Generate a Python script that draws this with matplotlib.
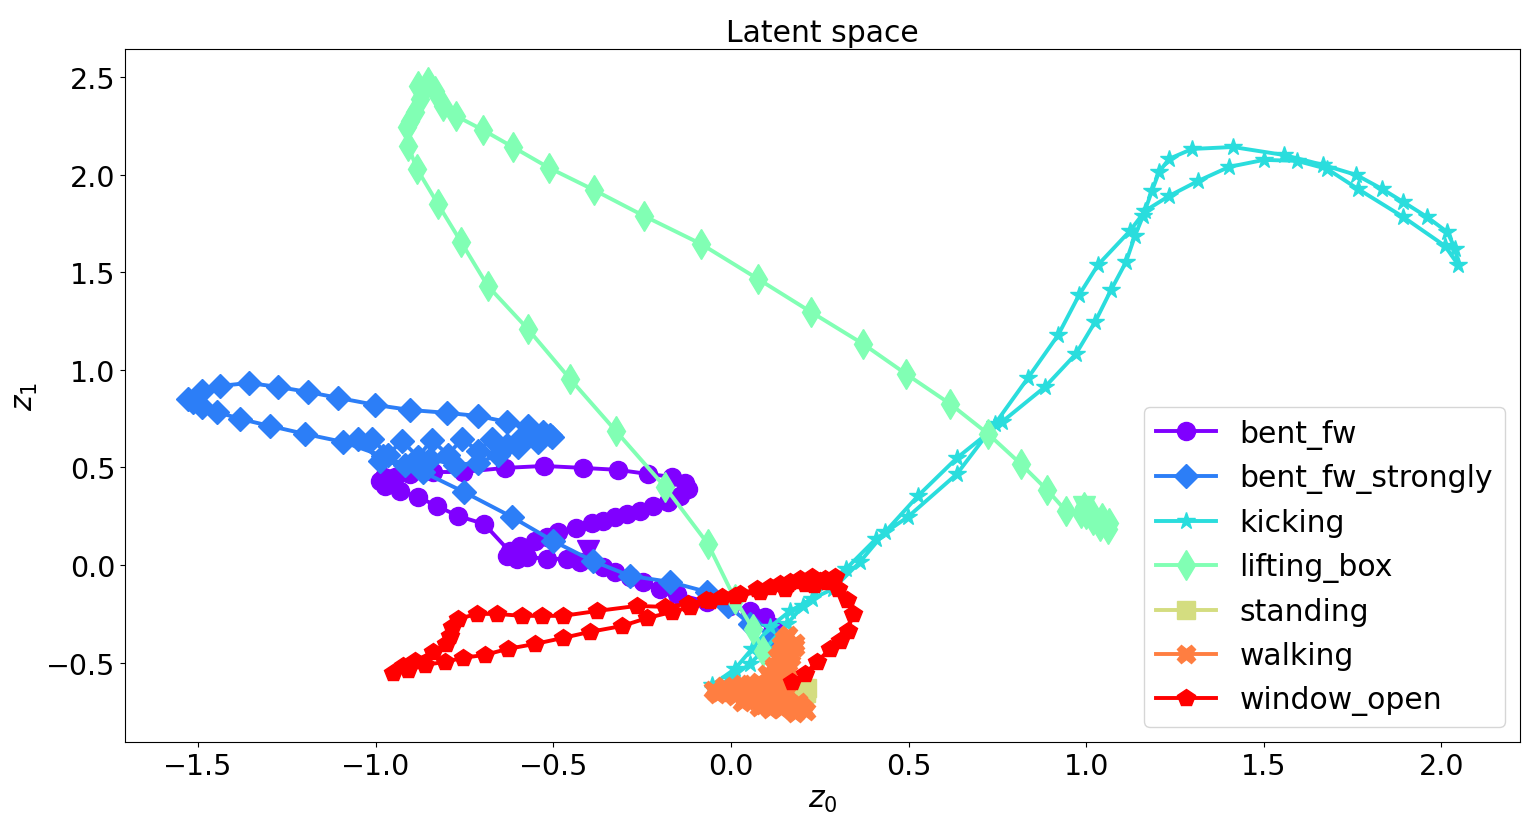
import matplotlib
matplotlib.use('Agg')
import matplotlib.pyplot as plt
from matplotlib import cm
import numpy as np

labels = ['bent_fw', 'bent_fw_strongly', 'kicking', 'lifting_box',
          'standing', 'walking', 'window_open']
markers = ['o', 'D', '*', 'd', 's', 'X', 'p']

bent_fw_x = [-0.622, -0.695, -0.769, -0.828, -0.881, -0.932, -0.974, -0.988, -0.977, -0.946,
             -0.904, -0.839, -0.755, -0.636, -0.526, -0.417, -0.318, -0.234, -0.166, -0.130,
             -0.121, -0.144, -0.177, -0.220, -0.256, -0.293, -0.327, -0.360, -0.391, -0.436,
             -0.487, -0.518, -0.552, -0.594, -0.622, -0.631, -0.602, -0.574, -0.518, -0.462,
             -0.425, -0.360, -0.327, -0.284, -0.248, -0.200, -0.152, -0.068, -0.003, 0.053,
             0.096, 0.118, 0.124]
bent_fw_y = [0.067, 0.210, 0.251, 0.302, 0.348, 0.379, 0.405, 0.430, 0.451, 0.451,
             0.466, 0.476, 0.476, 0.497, 0.507, 0.497, 0.487, 0.466, 0.451, 0.420,
             0.389, 0.353, 0.323, 0.302, 0.277, 0.261, 0.246, 0.225, 0.215, 0.190,
             0.169, 0.143, 0.123, 0.097, 0.072, 0.046, 0.031, 0.041, 0.031, 0.031,
             0.015, -0.010, -0.036, -0.061, -0.087, -0.123, -0.149, -0.190, -0.210, -0.236,
             -0.266, -0.318, -0.379]

bent_fw_strongly_x = [0.118, 0.053, -0.008, -0.068, -0.172, -0.284, -0.389, -0.501, -0.617, -0.752,
                      -0.867, -0.980, -1.092, -1.199, -1.298, -1.382, -1.447, -1.489, -1.515, -1.529,
                      -1.489, -1.439, -1.357, -1.275, -1.191, -1.106, -1.002, -0.904, -0.800, -0.712,
                      -0.631, -0.572, -0.529, -0.504, -0.543, -0.588, -0.631, -0.673, -0.712, -0.757,
                      -0.797, -0.842, -0.881, -0.926, -0.966, -1.011, -1.050, -0.988, -0.918, -0.847,
                      -0.777, -0.712, -0.656, -0.600, -0.543, -0.510]
bent_fw_strongly_y = [-0.364, -0.302, -0.210, -0.138, -0.087, -0.056, 0.020, 0.123, 0.246, 0.374,
                      0.476, 0.558, 0.630, 0.671, 0.712, 0.748, 0.784, 0.809, 0.835, 0.850,
                      0.891, 0.917, 0.932, 0.912, 0.886, 0.856, 0.820, 0.794, 0.779, 0.763,
                      0.733, 0.712, 0.681, 0.656, 0.630, 0.656, 0.615, 0.646, 0.584, 0.646,
                      0.564, 0.640, 0.553, 0.635, 0.564, 0.646, 0.646, 0.533, 0.512, 0.543,
                      0.512, 0.523, 0.564, 0.605, 0.646, 0.666]

kicking_x = [-0.053, 0.011, 0.059, 0.110, 0.166, 0.228, 0.287, 0.363, 0.434, 0.526,
             0.636, 0.763, 0.884, 0.971, 1.025, 1.070, 1.112, 1.137, 1.160, 1.185,
             1.205, 1.233, 1.298, 1.413, 1.557, 1.667, 1.760, 1.833, 1.892, 1.959,
             2.016, 2.039, 2.047, 2.010, 1.892, 1.765, 1.678, 1.593, 1.500, 1.402,
             1.315, 1.233, 1.166, 1.123, 1.033, 0.980, 0.921, 0.836, 0.743, 0.636,
             0.498, 0.408, 0.324, 0.265, 0.203, 0.158, 0.096, 0.053, -0.003, -0.051]
kicking_y = [-0.615, -0.533, -0.430, -0.318, -0.236, -0.174, -0.123, 0.015, 0.169, 0.353,
             0.548, 0.733, 0.912, 1.081, 1.245, 1.409, 1.552, 1.685, 1.788, 1.916,
             2.013, 2.080, 2.131, 2.141, 2.100, 2.049, 1.998, 1.926, 1.860, 1.783,
             1.706, 1.619, 1.537, 1.634, 1.783, 1.926, 2.029, 2.070, 2.075, 2.039,
             1.967, 1.890, 1.814, 1.711, 1.537, 1.383, 1.178, 0.958, 0.722, 0.466,
             0.246, 0.133, -0.020, -0.097, -0.210, -0.302, -0.430, -0.507, -0.584, -0.635]

lifting_box_x = [0.994, 1.000, 1.020, 1.040, 1.060, 1.065, 1.045, 1.020, 0.985, 0.943,
                 0.890, 0.816, 0.724, 0.617, 0.493, 0.372, 0.225, 0.076, -0.084, -0.245,
                 -0.386, -0.512, -0.614, -0.698, -0.774, -0.811, -0.833, -0.853, -0.881, -0.876,
                 -0.890, -0.904, -0.912, -0.909, -0.884, -0.825, -0.760, -0.685, -0.572, -0.453,
                 -0.324, -0.186, -0.065, 0.011, 0.062, 0.090]
lifting_box_y = [0.297, 0.260, 0.230, 0.200, 0.185, 0.215, 0.240, 0.255, 0.265, 0.277,
                 0.384, 0.517, 0.671, 0.825, 0.978, 1.132, 1.296, 1.465, 1.644, 1.788,
                 1.921, 2.034, 2.141, 2.228, 2.300, 2.351, 2.428, 2.474, 2.454, 2.387,
                 2.321, 2.275, 2.244, 2.147, 2.029, 1.849, 1.655, 1.430, 1.209, 0.953,
                 0.686, 0.400, 0.108, -0.174, -0.328, -0.441]

standing_x = [0.210, 0.205, 0.215, 0.200, 0.190, 0.150, 0.100, 0.090, 0.140, 0.200, 0.212]
standing_y = [-0.640, -0.660, -0.630, -0.650, -0.670, -0.690, -0.700, -0.680, -0.660, -0.640, -0.655]

walking_x = [0.12, 0.15, 0.17, 0.18, 0.16, 0.14, 0.12, 0.08, 0.02, -0.03,
             -0.05, 0.01, 0.07, 0.12, 0.16, 0.19, 0.21, 0.17, 0.13, 0.14,
             0.16, 0.18, 0.15, 0.13, 0.10, 0.05, 0.00, -0.04, 0.03, 0.09,
             0.14, 0.18, 0.20, 0.15, 0.11, 0.13, 0.17, 0.12, 0.06, 0.09,
             0.13, 0.16, 0.19, 0.10, 0.04, -0.02, 0.05, 0.11, 0.08, 0.15,
             0.12, 0.07, 0.11, 0.16, 0.14, 0.09, 0.03, 0.06, 0.12]
walking_y = [-0.62, -0.55, -0.47, -0.40, -0.36, -0.44, -0.53, -0.60, -0.63, -0.65,
             -0.64, -0.67, -0.69, -0.70, -0.72, -0.74, -0.75, -0.71, -0.66, -0.58,
             -0.50, -0.42, -0.38, -0.47, -0.56, -0.61, -0.64, -0.66, -0.70, -0.72,
             -0.74, -0.76, -0.73, -0.68, -0.64, -0.60, -0.45, -0.52, -0.66, -0.71,
             -0.69, -0.65, -0.70, -0.62, -0.66, -0.62, -0.68, -0.74, -0.73, -0.61,
             -0.56, -0.64, -0.67, -0.58, -0.41, -0.70, -0.61, -0.68, -0.72]

window_open_x = [0.172, 0.208, 0.242, 0.279, 0.307, 0.329, 0.343, 0.327, 0.301, 0.265,
                 0.228, 0.194, 0.166, 0.138, 0.110, 0.073, 0.025, -0.025, -0.070, -0.121,
                 -0.186, -0.265, -0.377, -0.473, -0.532, -0.588, -0.659, -0.715, -0.769, -0.785,
                 -0.791, -0.802, -0.839, -0.890, -0.923, -0.952, -0.909, -0.861, -0.805, -0.755,
                 -0.693, -0.628, -0.552, -0.473, -0.397, -0.307, -0.236, -0.166, -0.115, -0.059,
                 0.011, 0.082, 0.152, 0.208, 0.251, 0.293, 0.270, 0.235, 0.195, 0.160]
window_open_y = [-0.599, -0.558, -0.497, -0.430, -0.389, -0.338, -0.251, -0.179, -0.123, -0.072,
                 -0.061, -0.072, -0.087, -0.097, -0.113, -0.123, -0.149, -0.164, -0.179, -0.200,
                 -0.215, -0.210, -0.236, -0.261, -0.261, -0.261, -0.251, -0.251, -0.277, -0.318,
                 -0.364, -0.405, -0.446, -0.492, -0.517, -0.553, -0.538, -0.512, -0.497, -0.476,
                 -0.461, -0.430, -0.405, -0.374, -0.343, -0.313, -0.272, -0.241, -0.215, -0.184,
                 -0.159, -0.138, -0.123, -0.097, -0.082, -0.061, -0.090, -0.105, -0.080, -0.100]

start_labels = ['bent_fw', 'lifting_box']
start_x = [-0.403, 0.994]
start_y = [0.072, 0.297]

series_x = [bent_fw_x, bent_fw_strongly_x, kicking_x, lifting_box_x,
            standing_x, walking_x, window_open_x]
series_y = [bent_fw_y, bent_fw_strongly_y, kicking_y, lifting_box_y,
            standing_y, walking_y, window_open_y]

colors = cm.rainbow(np.linspace(0, 1, len(labels)))

fig = plt.figure(figsize=(15.33, 8.28), dpi=100)
ax = fig.add_axes([0.0815, 0.1027, 0.91, 0.8369])

msizes = {'o': 13, 'D': 12, '*': 13, 'd': 15, 's': 13, 'X': 13, 'p': 13}
for lab, mk, c, xs, ys in zip(labels, markers, colors, series_x, series_y):
    ax.plot(xs, ys, marker=mk, color=c, lw=2.8, markersize=msizes[mk], label=lab)
    if lab in start_labels:
        i = start_labels.index(lab)
        ax.plot([start_x[i]], [start_y[i]], marker='v', color=c,
                markersize=16, linestyle='none')

ax.set_xlim(-1.706, 2.221)
ax.set_ylim(-0.907, 2.643)
ax.set_title('Latent space', fontsize=21.5)
ax.set_xlabel(r'$z_0$', fontsize=21.5)
ax.set_ylabel(r'$z_1$', fontsize=21.5)
ax.tick_params(labelsize=20.5)
ax.legend(loc='lower right', fontsize=21.5)

fig.savefig('out.png', dpi=100)
